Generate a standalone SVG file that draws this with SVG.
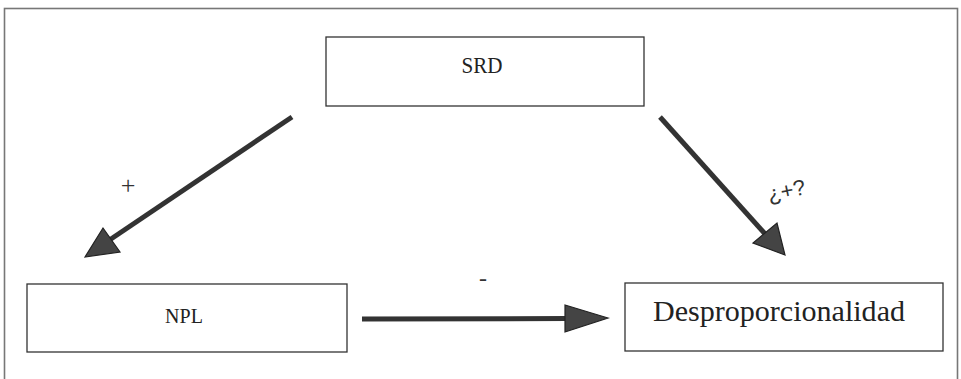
<svg xmlns="http://www.w3.org/2000/svg" width="961" height="379" viewBox="0 0 961 379">
<style>
.box{fill:#fff;stroke:#333;stroke-width:1.3}
.lbl{fill:#222;text-anchor:middle}
.shaft{stroke:#333;stroke-width:5;stroke-linecap:butt}
.head{fill:#444;stroke:#222;stroke-width:1.2;stroke-linejoin:miter}
.sign{fill:#333;text-anchor:middle}
</style>
<rect width="961" height="379" fill="#fff"/>
<rect x="4.5" y="8.5" width="953" height="385" fill="none" stroke="#777" stroke-width="1.6"/>
<g id="srd">
<rect class="box" x="326" y="37" width="318" height="69"/>
<text class="lbl" x="482" y="73" font-family="'Liberation Serif', serif" font-size="24" textLength="41" lengthAdjust="spacingAndGlyphs">SRD</text>
</g>
<g id="npl">
<rect class="box" x="27" y="284" width="320" height="68"/>
<text class="lbl" x="184" y="323" font-family="'Liberation Serif', serif" font-size="20">NPL</text>
</g>
<g id="desproporcionalidad">
<rect class="box" x="625" y="283" width="318" height="68"/>
<text class="lbl" x="779" y="321" font-family="'Liberation Serif', serif" font-size="29" textLength="252" lengthAdjust="spacingAndGlyphs">Desproporcionalidad</text>
</g>
<g id="connectors">
<line class="shaft" x1="292" y1="117" x2="108" y2="241"/>
<polygon class="head" points="85,257 103,228 120,252"/>
<line class="shaft" x1="660" y1="117" x2="767" y2="236"/>
<polygon class="head" points="785,255 753,243 777,223"/>
<line class="shaft" x1="362" y1="319" x2="567" y2="318.5"/>
<polygon class="head" points="608,318 565,305 565,332"/>
<text class="sign" x="128" y="194" font-family="'Liberation Serif', serif" font-size="26">+</text>
<text class="sign" x="483" y="286" font-family="'Liberation Serif', serif" font-size="24">-</text>
<text class="sign" x="0" y="0" font-family="'Liberation Sans', sans-serif" font-size="22" transform="translate(788,198) rotate(-12)">¿+?</text>
</g>
</svg>
